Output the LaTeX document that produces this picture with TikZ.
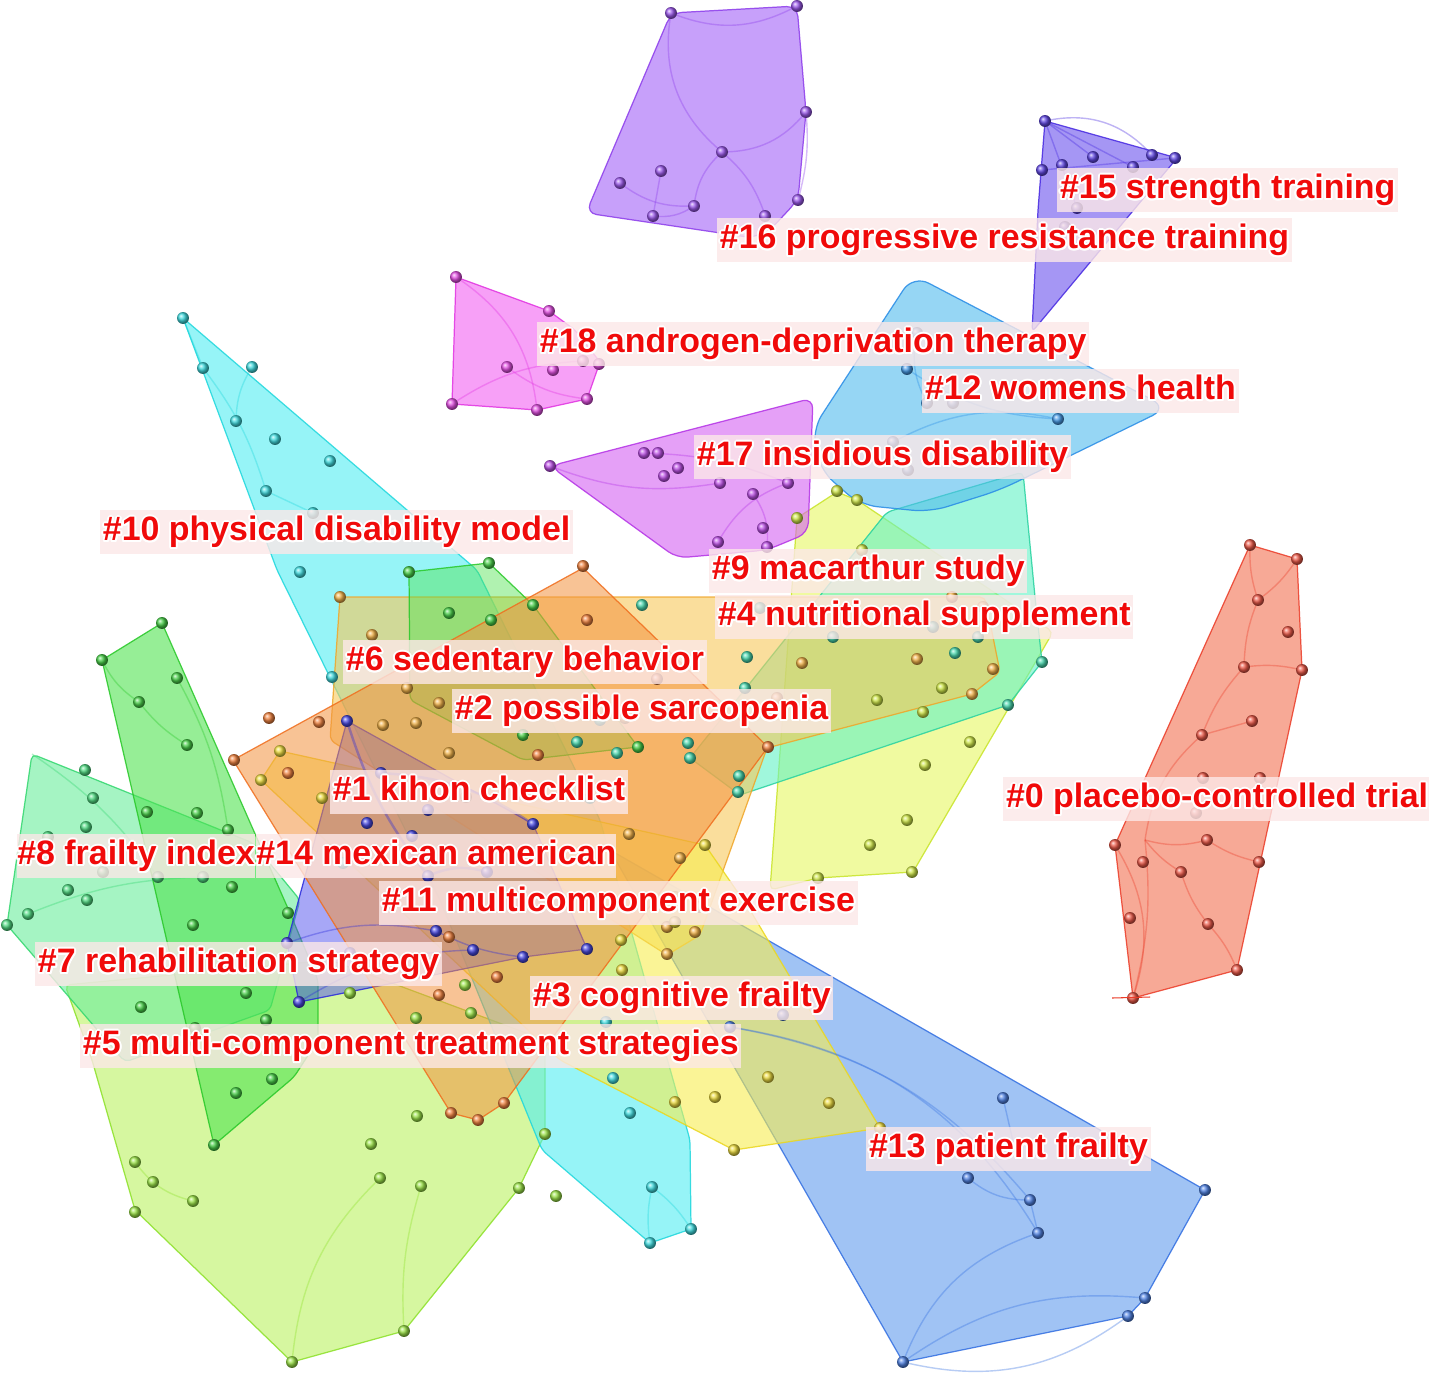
\documentclass[tikz,border=0pt]{standalone}
\usepackage{fontspec}
\setmainfont{Liberation Sans}
\usepackage[copies]{contour}
\contourlength{1.1pt}
\definecolor{labred}{RGB}{240,10,10}
\definecolor{labbg}{RGB}{252,232,232}
\definecolor{fRed}{RGB}{243,113,80}\definecolor{dRed}{RGB}{235,60,40}
\definecolor{fBlueA}{RGB}{97,155,238}\definecolor{dBlueA}{RGB}{50,110,225}
\definecolor{fBlueB}{RGB}{80,80,238}\definecolor{dBlueB}{RGB}{40,40,220}
\definecolor{fViol}{RGB}{105,80,238}\definecolor{dViol}{RGB}{70,40,225}
\definecolor{fPurp}{RGB}{163,97,247}\definecolor{dPurp}{RGB}{140,60,235}
\definecolor{fMagA}{RGB}{213,97,243}\definecolor{dMagA}{RGB}{180,50,230}
\definecolor{fMagB}{RGB}{243,97,243}\definecolor{dMagB}{RGB}{225,50,225}
\definecolor{fSky}{RGB}{80,188,238}\definecolor{dSky}{RGB}{40,140,230}
\definecolor{fCyan}{RGB}{80,238,243}\definecolor{dCyan}{RGB}{30,215,220}
\definecolor{fMint}{RGB}{97,243,197}\definecolor{dMint}{RGB}{40,210,160}
\definecolor{fMintB}{RGB}{105,238,155}\definecolor{dMintB}{RGB}{50,215,110}
\definecolor{fGreen}{RGB}{80,227,80}\definecolor{dGreen}{RGB}{40,200,40}
\definecolor{fLime}{RGB}{188,243,97}\definecolor{dLime}{RGB}{140,225,40}
\definecolor{fOrange}{RGB}{243,147,63}\definecolor{dOrange}{RGB}{240,110,30}
\definecolor{fLOrange}{RGB}{247,200,90}\definecolor{dLOrange}{RGB}{240,165,40}
\definecolor{fYellow}{RGB}{247,238,80}\definecolor{dYellow}{RGB}{235,215,30}
\definecolor{fYGreen}{RGB}{230,247,97}\definecolor{dYGreen}{RGB}{200,228,40}
\newcommand\clusterdots[2]{\foreach \p in {#2}{\shade[ball color=#1!85!white] \p circle[radius=3.4pt];}}
\begin{document}
\begin{tikzpicture}[x=0.02cm,y=-0.02cm,
  clus/.style={rounded corners=3pt, line width=0.7pt, fill opacity=0.6, draw opacity=0.85},
  lab/.style={fill=labbg, fill opacity=0.8, text opacity=1, text=labred,
    font=\fontsize{19.3}{23}\selectfont\bfseries, inner xsep=1.5pt, inner ysep=3.5pt,
    text height=14pt, text depth=4pt, anchor=west},
  link/.style={line width=0.8pt, draw opacity=0.35}]
\useasboundingbox (0,0) rectangle (1429,1372);
\fill[white] (0,0) rectangle (1429,1372);

% ---------- cluster hulls ----------
\filldraw[clus, fill=fLime, draw=dLime] (65,985) -- (330,960) -- (545,1040) -- (545,1134) -- (519,1188) -- (404,1331) -- (292,1362) -- (135,1210) -- (92,1060) -- cycle;
\filldraw[clus, fill=fCyan, draw=dCyan] (183,318) -- (477,570) -- (600,820) -- (690,1140) -- (691,1229) -- (650,1243) -- (542,1150) -- (440,900) -- (277,570) -- cycle;
\filldraw[clus, fill=fBlueA, draw=dBlueA] (610,850) -- (1205,1190) -- (1145,1298) -- (1128,1316) -- (903,1362) -- cycle;
\filldraw[clus, fill=fMintB, draw=dMintB] (32,754) -- (253,843) -- (300,900) -- (270,1010) -- (125,1062) -- (7,925) -- cycle;
\filldraw[clus, fill=fGreen, draw=dGreen] (102,660) -- (162,623) -- (290,913) -- (318,980) -- (318,1040) -- (294,1077) -- (214,1145) -- cycle;
\filldraw[clus, fill=fYGreen, draw=dYGreen] (797,518) -- (837,492) -- (857,500) -- (1053,632) -- (913,872) -- (818,878) -- (770,890) -- cycle;
\filldraw[clus, fill=fMint, draw=dMint] (1023,472) -- (1035,597) -- (1042,662) -- (1008,705) -- (740,795) -- (690,758) -- (887,512) -- cycle;
\filldraw[clus, fill=fSky, draw=dSky, rounded corners=10pt] (913,275) -- (1168,408) -- (1000,490) -- (930,512) -- (860,505) -- (820,470) -- (812,430) -- cycle;
\filldraw[clus, fill=fLOrange, draw=dLOrange] (340,597) -- (985,597) -- (1000,672) -- (972,694) -- (767,748) -- (700,935) -- (667,955) -- (330,740) -- cycle;
\filldraw[clus, fill=fYellow, draw=dYellow] (261,780) -- (280,751) -- (705,845) -- (750,910) -- (880,1128) -- (734,1150) -- (560,1060) -- cycle;
\filldraw[clus, fill=fGreen, draw=dGreen, fill opacity=0.45] (409,572) -- (489,563) -- (533,605) -- (638,747) -- (523,760) -- (410,700) -- cycle;
\filldraw[clus, fill=fBlueB, draw=dBlueB, fill opacity=0.5] (347,721) -- (533,824) -- (587,949) -- (523,957) -- (299,1002) -- (287,943) -- cycle;
\filldraw[clus, fill=fOrange, draw=dOrange, fill opacity=0.55] (233,760) -- (583,568) -- (768,747) -- (504,1103) -- (478,1120) -- (451,1113) -- cycle;
\filldraw[clus, fill=fRed, draw=dRed] (1250,545) -- (1297,559) -- (1302,670) -- (1237,970) -- (1133,998) -- (1115,845) -- cycle;
\filldraw[clus, fill=fViol, draw=dViol] (1045,121) -- (1177,158) -- (1032,332) -- (1038,210) -- cycle;
\filldraw[clus, fill=fPurp, draw=dPurp, rounded corners=6pt] (671,13) -- (797,6) -- (806,112) -- (798,200) -- (770,230) -- (754,238) -- (586,213) -- cycle;
\filldraw[clus, fill=fMagA, draw=dMagA, rounded corners=6pt] (550,466) -- (813,398) -- (808,533) -- (767,550) -- (677,558) -- cycle;
\filldraw[clus, fill=fMagB, draw=dMagB] (456,277) -- (549,311) -- (575,330) -- (600,362) -- (587,399) -- (537,410) -- (452,404) -- cycle;

% ---------- links ----------
\begin{scope}[link]
\draw[dRed] (1115,845) to[bend left=25] (1133,998);
\draw[dRed] (1145,840) to[bend left=20] (1202,735) to[bend left=10] (1244,667);
\draw[dRed] (1145,840) to[bend right=15] (1207,840) to[bend right=10] (1259,862);
\draw[dRed] (1145,840) to[bend left=10] (1133,998);
\draw[dRed] (1145,840) to[bend right=10] (1181,872) to[bend right=10] (1208,924) to[bend left=10] (1237,970);
\draw[dRed] (1244,667) to[bend left=10] (1258,600) to[bend left=10] (1250,545);
\draw[dRed] (1244,667) to[bend left=10] (1302,670);
\draw[dRed] (1258,600) to[bend right=10] (1297,559);
\draw[dRed] (1202,735) -- (1252,721);
\draw[dPurp] (671,13) to[bend right=25] (797,6);
\draw[dPurp] (671,13) to[bend right=30] (722,152) to[bend right=25] (806,112);
\draw[dPurp] (722,152) to[bend right=20] (694,206) to[bend left=20] (653,216);
\draw[dPurp] (722,152) to[bend left=15] (765,215);
\draw[dPurp] (620,183) to[bend right=20] (694,206);
\draw[dPurp] (661,171) -- (653,216);
\draw[dPurp] (806,112) to[bend left=10] (798,200);
\draw[dViol] (1045,121) to[bend left=30] (1152,155);
\draw[dViol] (1045,121) -- (1093,157); \draw[dViol] (1045,121) -- (1133,167);
\draw[dViol] (1045,121) -- (1077,208); \draw[dViol] (1042,170) -- (1175,158);
\draw[dMagB] (456,277) to[bend left=25] (537,410);
\draw[dMagB] (452,404) to[bend left=15] (583,361);
\draw[dMagB] (507,367) to[bend right=15] (587,399);
\draw[dMagA] (550,466) to[bend right=15] (720,483);
\draw[dMagA] (644,453) to[bend left=10] (788,483);
\draw[dMagA] (753,494) to[bend left=20] (767,547);
\draw[dMagA] (718,542) to[bend left=20] (788,483);
\draw[dBlueA] (903,1362) to[bend left=25] (1038,1233);
\draw[dBlueA] (903,1362) to[bend left=20] (1145,1298);
\draw[dBlueA] (903,1362) to[bend right=25] (1128,1316);
\draw[dBlueA] (730,1027) to[bend left=20] (1030,1200);
\draw[dBlueA] (730,1027) to[bend left=25] (1038,1233);
\draw[dBlueA] (968,1178) to[bend right=20] (1030,1200) -- (1038,1233);
\draw[dBlueA] (1003,1098) -- (1015,1150);
\draw[dSky] (907,369) to[bend right=15] (1058,419);
\draw[dSky] (893,442) to[bend left=20] (1058,419);
\draw[dSky] (917,333) to[bend right=20] (927,403);
\draw[dBlueB, line width=1.4pt] (347,721) to[bend right=10] (428,876) to[bend left=20] (487,872);
\draw[dBlueB, line width=1.4pt] (381,773) to[bend left=15] (533,824);
\draw[dBlueB] (287,943) to[bend left=15] (436,931) to[bend right=10] (523,957);
\draw[dBlueB] (299,1002) to[bend left=15] (473,950);
\draw[dCyan] (183,318) -- (203,368) to[bend left=10] (266,491) -- (313,513);
\draw[dCyan] (252,367) to[bend right=15] (236,421);
\draw[dCyan] (652,1187) to[bend right=10] (650,1243);
\draw[dCyan] (652,1187) to[bend left=10] (691,1229);
\draw[dGreen] (102,660) to[bend right=15] (139,702) to[bend right=10] (187,745);
\draw[dGreen] (177,678) to[bend left=10] (228,830);
\draw[dMintB] (32,754) to[bend left=10] (158,877);
\draw[dMintB] (28,914) to[bend left=10] (203,877);
\draw[dLime] (292,1362) to[bend left=20] (380,1178);
\draw[dLime] (404,1331) to[bend left=10] (421,1186);
\draw[dLime] (135,1162) to[bend right=20] (193,1201);
\end{scope}

% ---------- dots ----------
\clusterdots{dRed}{(1250,545),(1297,559),(1258,600),(1288,632),(1244,667),(1302,670),(1252,721),(1202,735),(1203,778),(1260,778),(1196,813),(1207,840),(1259,862),(1143,862),(1181,872),(1115,845),(1130,918),(1208,924),(1237,970),(1133,998)}
\clusterdots{dPurp}{(671,13),(797,6),(806,112),(722,152),(661,171),(620,183),(653,216),(694,206),(765,216),(798,200)}
\clusterdots{dViol}{(1045,121),(1152,155),(1175,158),(1093,157),(1062,165),(1042,170),(1133,167),(1077,208),(1065,227)}
\clusterdots{dMagB}{(456,277),(549,311),(599,364),(587,399),(537,410),(452,404),(507,367),(553,370),(583,361)}
\clusterdots{dMagA}{(550,466),(644,453),(658,453),(678,468),(664,476),(720,483),(753,494),(788,483),(763,528),(718,542),(767,547)}
\clusterdots{dSky}{(907,369),(917,333),(927,403),(953,403),(1058,419),(893,442),(908,470)}
\clusterdots{dCyan}{(183,318),(203,368),(252,367),(236,421),(275,439),(330,461),(266,491),(313,513),(300,572),(332,677),(606,1022),(613,1078),(630,1113),(652,1187),(691,1229),(650,1243),(343,863)}
\clusterdots{dMint}{(1042,662),(1008,705),(955,653),(978,637),(833,637),(747,657),(745,688),(690,758),(738,792),(760,608),(933,627),(642,605),(600,720),(577,742),(617,753),(688,743),(739,776),(590,798)}
\clusterdots{dGreen}{(102,660),(162,623),(177,678),(139,702),(187,745),(147,812),(197,813),(228,830),(232,887),(193,925),(288,913),(246,993),(266,1020),(141,1007),(236,1093),(272,1079),(214,1145),(195,1028),(409,572),(489,563),(449,613),(491,620),(533,605),(523,735),(638,747)}
\clusterdots{dMintB}{(85,770),(93,798),(86,827),(48,837),(68,890),(87,900),(28,914),(7,925),(158,877),(203,877),(103,872)}
\clusterdots{dLime}{(417,1116),(371,1144),(380,1178),(421,1186),(519,1188),(545,1134),(556,1196),(404,1331),(292,1362),(135,1162),(153,1182),(193,1201),(135,1212),(471,1013),(416,1018),(465,985),(350,993)}
\clusterdots{dOrange}{(583,566),(234,760),(269,718),(319,722),(288,773),(587,620),(768,747),(538,755),(466,797),(449,937),(497,977),(439,995),(451,1113),(478,1120),(504,1103),(657,679)}
\clusterdots{dLOrange}{(340,597),(407,688),(439,703),(416,723),(383,725),(449,753),(625,718),(629,834),(699,907),(667,927),(680,858),(952,597),(983,607),(917,659),(993,669),(972,694),(802,663),(777,698),(372,635),(695,932),(667,954)}
\clusterdots{dYellow}{(280,751),(261,780),(322,798),(705,845),(621,940),(675,897),(622,970),(768,1077),(715,1097),(675,1102),(829,1103),(880,1128),(734,1150),(675,922)}
\clusterdots{dYGreen}{(837,491),(857,500),(797,518),(862,550),(877,700),(923,712),(942,688),(970,742),(925,765),(907,820),(870,845),(912,872),(818,878)}
\clusterdots{dBlueB}{(347,721),(381,773),(367,823),(428,810),(412,836),(428,876),(487,872),(533,824),(436,931),(473,950),(523,957),(587,949),(287,943),(299,1002),(350,953)}
\clusterdots{dBlueA}{(730,1027),(783,1015),(1003,1098),(968,1178),(1030,1200),(1038,1233),(1205,1190),(1145,1298),(1128,1316),(903,1362)}
\draw[dRed, line width=0.6pt] (1112,998) -- (1150,997);

% ---------- labels ----------
\node[lab] (l15) at (1057,190) {\contour{white}{\#15 strength training}};
\node[lab] (l16) at (717,240) {\contour{white}{\#16 progressive resistance training}};
\node[lab] (l18) at (537,344) {\contour{white}{\#18 androgen-deprivation therapy}};
\node[lab] (l12) at (922,391) {\contour{white}{\#12 womens health}};
\node[lab] (l17) at (694,457) {\contour{white}{\#17 insidious disability}};
\node[lab] (l10) at (100,532) {\contour{white}{\#10 physical disability model}};
\node[lab] (l9) at (709,571) {\contour{white}{\#9 macarthur study}};
\node[lab] (l4) at (715,617) {\contour{white}{\#4 nutritional supplement}};
\node[lab] (l6) at (343,662) {\contour{white}{\#6 sedentary behavior}};
\node[lab] (l2) at (452,711) {\contour{white}{\#2 possible sarcopenia}};
\node[lab] (l0) at (1003,799) {\contour{white}{\#0 placebo-controlled trial}};
\node[lab] (l1) at (330,792) {\contour{white}{\#1 kihon checklist}};
\node[lab, inner xsep=0pt] (l8) at (17,856) {\contour{white}{\#8 frailty index}};
\node[lab, inner xsep=0pt] (l14) at (256,856) {\contour{white}{\#14 mexican american}};
\node[lab] (l11) at (379,903) {\contour{white}{\#11 multicomponent exercise}};
\node[lab] (l7) at (35,964) {\contour{white}{\#7 rehabilitation strategy}};
\node[lab] (l3) at (530,998) {\contour{white}{\#3 cognitive frailty}};
\node[lab] (l5) at (80,1046) {\contour{white}{\#5 multi-component treatment strategies}};
\node[lab] (l13) at (866,1149) {\contour{white}{\#13 patient frailty}};
\end{tikzpicture}
\end{document}
